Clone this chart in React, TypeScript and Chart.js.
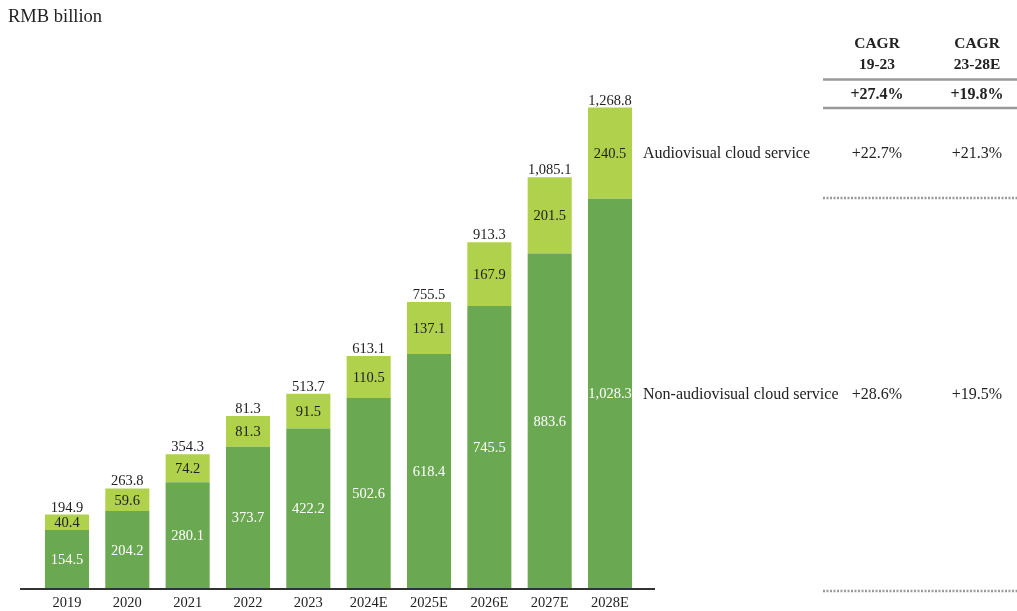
import React, { useEffect, useRef } from "react";
import { Chart, registerables } from "chart.js";

Chart.register(...registerables);

const categories = ["2019", "2020", "2021", "2022", "2023", "2024E", "2025E", "2026E", "2027E", "2028E"];
const nonAudiovisual = [154.5, 204.2, 280.1, 373.7, 422.2, 502.6, 618.4, 745.5, 883.6, 1028.3];
const audiovisual = [40.4, 59.6, 74.2, 81.3, 91.5, 110.5, 137.1, 167.9, 201.5, 240.5];
const totalLabels = ["194.9", "263.8", "354.3", "81.3", "513.7", "613.1", "755.5", "913.3", "1,085.1", "1,268.8"];
const cagrHeaders = [["CAGR", "19-23"], ["CAGR", "23-28E"]];
const cagrTotal = ["+27.4%", "+19.8%"];
const cagrAudiovisual = ["+22.7%", "+21.3%"];
const cagrNonAudiovisual = ["+28.6%", "+19.5%"];
const seriesNames = ["Non-audiovisual cloud service", "Audiovisual cloud service"];

const DARK = "#6aa851";
const LIGHT = "#afd14b";
const SERIF = "'Liberation Serif', 'Times New Roman', serif";

const fmt = (v: number) => v.toLocaleString("en-US", { minimumFractionDigits: 1, maximumFractionDigits: 1 });

const overlay = {
  id: "overlay",
  afterDatasetsDraw(chart: any) {
    const ctx = chart.ctx as CanvasRenderingContext2D;
    const x = chart.scales.x;
    const y = chart.scales.y;
    ctx.save();
    // segment labels
    ctx.textAlign = "center";
    ctx.textBaseline = "middle";
    ctx.font = `14.5px ${SERIF}`;
    categories.forEach((_, i) => {
      const cx = x.getPixelForValue(i);
      const y0 = y.getPixelForValue(0);
      const y1 = y.getPixelForValue(nonAudiovisual[i]);
      const y2 = y.getPixelForValue(nonAudiovisual[i] + audiovisual[i]);
      ctx.fillStyle = "#ffffff";
      ctx.fillText(fmt(nonAudiovisual[i]), cx, (y0 + y1) / 2 + 1);
      ctx.fillStyle = "#222222";
      ctx.fillText(fmt(audiovisual[i]), cx, (y1 + y2) / 2 + 1);
      ctx.textBaseline = "alphabetic";
      ctx.fillText(totalLabels[i], cx, y2 - 3);
      ctx.textBaseline = "middle";
    });
    // baseline
    const by = y.getPixelForValue(0) + 0.5;
    ctx.strokeStyle = "#333333";
    ctx.lineWidth = 2;
    ctx.beginPath();
    ctx.moveTo(20, by);
    ctx.lineTo(655, by);
    ctx.stroke();
    // category labels
    ctx.fillStyle = "#222222";
    ctx.font = `14.5px ${SERIF}`;
    categories.forEach((c, i) => {
      ctx.fillText(c, x.getPixelForValue(i), 603);
    });
    // unit title
    ctx.textAlign = "left";
    ctx.font = `18.5px ${SERIF}`;
    ctx.fillText("RMB billion", 8, 17);

    // table
    const col = [877, 977];
    ctx.textAlign = "center";
    ctx.font = `bold 15.5px ${SERIF}`;
    cagrHeaders.forEach((h, k) => {
      ctx.fillText(h[0], col[k], 44);
      ctx.fillText(h[1], col[k], 65);
    });
    ctx.strokeStyle = "#9a9a9a";
    ctx.lineWidth = 2.5;
    [79.5, 108].forEach((ly) => {
      ctx.beginPath();
      ctx.moveTo(823, ly);
      ctx.lineTo(1017, ly);
      ctx.stroke();
    });
    ctx.font = `bold 16px ${SERIF}`;
    cagrTotal.forEach((t, k) => ctx.fillText(t, col[k], 95));

    const last = categories.length - 1;
    const yAV = (y.getPixelForValue(nonAudiovisual[last]) + y.getPixelForValue(nonAudiovisual[last] + audiovisual[last])) / 2 + 1;
    const yNAV = (y.getPixelForValue(0) + y.getPixelForValue(nonAudiovisual[last])) / 2 + 1;
    ctx.font = `16px ${SERIF}`;
    ctx.textAlign = "left";
    ctx.fillText(seriesNames[1], 643, yAV);
    ctx.fillText(seriesNames[0], 643, yNAV);
    ctx.textAlign = "center";
    cagrAudiovisual.forEach((t, k) => ctx.fillText(t, col[k], yAV));
    cagrNonAudiovisual.forEach((t, k) => ctx.fillText(t, col[k], yNAV));

    ctx.setLineDash([2, 1.5]);
    ctx.lineWidth = 2.5;
    [198, 591].forEach((ly) => {
      ctx.beginPath();
      ctx.moveTo(823, ly);
      ctx.lineTo(1017, ly);
      ctx.stroke();
    });
    ctx.restore();
  },
};

export default function App() {
  const ref = useRef<HTMLCanvasElement>(null);
  useEffect(() => {
    if (!ref.current) return;
    const chart = new Chart(ref.current, {
      type: "bar",
      data: {
        labels: categories,
        datasets: [
          { label: seriesNames[0], data: nonAudiovisual, backgroundColor: DARK, borderWidth: 0, barPercentage: 1, categoryPercentage: 0.73 },
          { label: seriesNames[1], data: audiovisual, backgroundColor: LIGHT, borderWidth: 0, barPercentage: 1, categoryPercentage: 0.73 },
        ],
      },
      options: {
        responsive: false,
        animation: false,
        devicePixelRatio: 1,
        layout: { padding: { left: 36.8, right: 376.8, top: 95.7, bottom: 22.5 } },
        scales: {
          x: { stacked: true, display: false },
          y: { stacked: true, display: false, min: 0, max: 1300 },
        },
        plugins: { legend: { display: false }, tooltip: { enabled: false } },
      },
      plugins: [overlay],
    });
    return () => chart.destroy();
  }, []);
  return (
    <div style={{ position: "absolute", left: 0, top: 0, width: 1017, height: 611, background: "#fff" }}>
      <canvas ref={ref} width={1017} height={611} />
    </div>
  );
}
